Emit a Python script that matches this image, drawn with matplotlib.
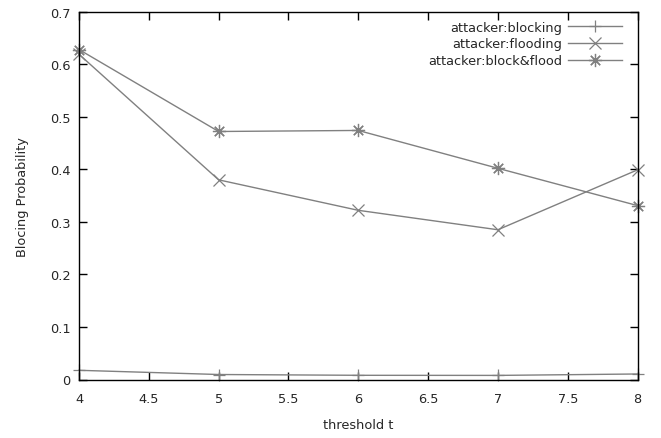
import matplotlib
matplotlib.use("Agg")
import matplotlib.pyplot as plt

# blocking probability for each attacker type vs. threshold t
thresholds = [4, 5, 6, 7, 8]
blocking = [0.0175, 0.0095, 0.008, 0.0078, 0.0105]
flooding = [0.619, 0.380, 0.322, 0.285, 0.399]
block_flood = [0.628, 0.472, 0.474, 0.402, 0.331]

xticks = [4, 4.5, 5, 5.5, 6, 6.5, 7, 7.5, 8]
xticklabels = ["4", "4.5", "5", "5.5", "6", "6.5", "7", "7.5", "8"]
yticks = [0, 0.1, 0.2, 0.3, 0.4, 0.5, 0.6, 0.7]
yticklabels = ["0", "0.1", "0.2", "0.3", "0.4", "0.5", "0.6", "0.7"]

plt.rcParams['font.family'] = ['DejaVu Sans']
plt.rcParams['font.size'] = 9.3

fig = plt.figure(figsize=(6.61, 4.39), dpi=100)
ax = fig.add_axes([79/661, 1 - 380.5/439, (637.5 - 79)/661, (380.5 - 12.7)/439])

grey = '#808080'
txt = '#262626'
ax.plot(thresholds, blocking, color=grey, lw=1.0, marker='+', ms=8.5,
        mew=0.9, clip_on=False, label='attacker:blocking')
ax.plot(thresholds, flooding, color=grey, lw=1.0, marker='x', ms=8.5,
        mew=0.9, clip_on=False, label='attacker:flooding')
ax.plot(thresholds, block_flood, color=grey, lw=1.0, marker=(8, 2, 0), ms=9.5,
        mew=0.9, clip_on=False, label='attacker:block&flood')

ax.set_xlim(4, 8)
ax.set_ylim(0, 0.7)
ax.set_xticks(xticks)
ax.set_xticklabels(xticklabels)
ax.set_yticks(yticks)
ax.set_yticklabels(yticklabels)

ax.tick_params(direction='in', top=True, right=True, length=6, width=1,
               colors='black', labelcolor=txt)
ax.tick_params(axis='x', pad=9)
ax.tick_params(axis='y', pad=6)
for s in ax.spines.values():
    s.set_linewidth(1.0)
    s.set_color('black')

ax.set_xlabel('threshold t', color=txt, labelpad=9.5)
ax.set_ylabel('Blocing Probability', color=txt, labelpad=15)

leg = ax.legend(loc='upper right', frameon=False, markerfirst=False,
                handlelength=4.2, handletextpad=0.4, labelspacing=0.3,
                borderaxespad=0, borderpad=0, bbox_to_anchor=(0.972, 0.976))
# right-align the entries so the sample lines stack up at the right
for col in leg._legend_handle_box.get_children():
    col.align = 'right'
for t in leg.get_texts():
    t.set_color(txt)

fig.savefig('out.png', dpi=100)
